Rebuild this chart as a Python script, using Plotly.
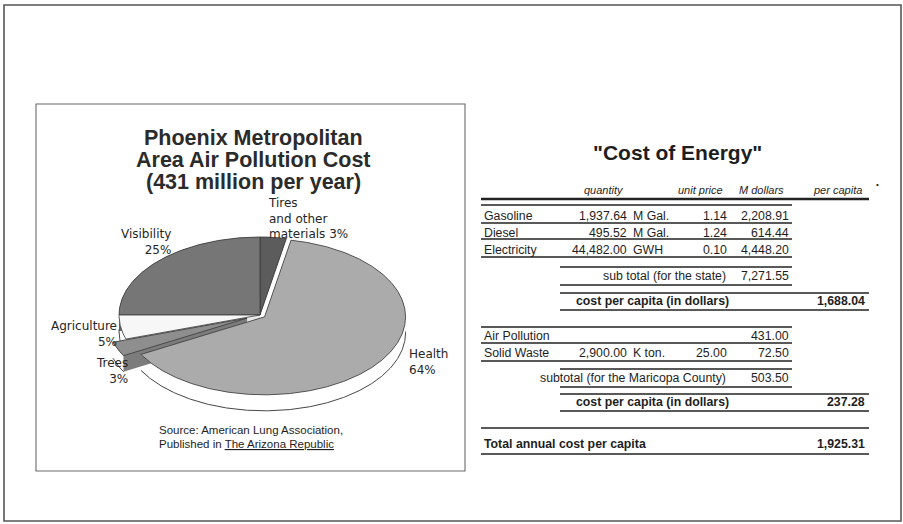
import numpy as np
import plotly.graph_objects as go

# ---------------- data ----------------
pie_title_lines = ["Phoenix Metropolitan", "Area Air Pollution Cost", "(431 million per year)"]
pie_labels = ["Visibility", "Agriculture", "Trees", "Health", "Tires and other materials"]
pie_shares = [25, 5, 3, 64, 3]
pie_label_lines = [["Visibility"], ["Agriculture"], ["Trees"], ["Health"], ["Tires", "and other", "materials"]]
source_line1 = "Source: American Lung Association,"
source_line2_prefix = "Published in "
source_publication = "The Arizona Republic"

table_title = '"Cost of Energy"'
table_headers = ["quantity", "unit price", "M dollars", "per capita"]

energy_items = ["Gasoline", "Diesel", "Electricity"]
energy_qty = [1937.64, 495.52, 44482.00]
energy_units = ["M Gal.", "M Gal.", "GWH"]
energy_price = [1.14, 1.24, 0.10]
energy_mdollars = [2208.91, 614.44, 4448.20]
state_subtotal_label = "sub total (for the state)"
state_subtotal = 7271.55
per_capita_label = "cost per capita (in dollars)"
state_per_capita = 1688.04

county_items = ["Air Pollution", "Solid Waste"]
county_qty = [None, 2900.00]
county_units = ["", "K ton."]
county_price = [None, 25.00]
county_mdollars = [431.00, 72.50]
county_subtotal_label = "subtotal (for the Maricopa County)"
county_subtotal = 503.50
county_per_capita = 237.28
total_label = "Total annual cost per capita"
total_per_capita = 1925.31

# ---------------- style / layout ----------------
W, H = 903, 524
SANS = "Liberation Sans, Arial, sans-serif"
WIDE = "DejaVu Sans, Verdana, sans-serif"
INK = "#1e1e1e"

cx, cy, ra, rb, depth = 260, 315, 141, 78, 16
start_angle = 90.0
explode = [0.0, 0.0, 0.1, 0.04, 0.0]
top_colors = ["#767676", "#f7f7f7", "#8e8e8e", "#ababab", "#5c5c5c"]
side_colors = ["#656565", "#e8e8e8", "#7c7c7c", "#9a9a9a", "#4e4e4e"]
# label placement: (x, y centre of the label block, xanchor)
label_pos = [(172, 242, "right"), (118, 334, "right"), (129, 371, "right"),
             (408, 362, "left"), (267, 218, "left")]

fig = go.Figure()

# ---------------- pseudo-3D pie built from the shares ----------------
total = float(sum(pie_shares))
bounds = []
acc = start_angle
for s in pie_shares:
    span = 360.0 * s / total
    bounds.append((acc, acc + span))
    acc += span


def pt(t_deg, ox, oy, dz=0.0):
    t = np.radians(t_deg)
    return cx + ox + ra * np.cos(t), cy + oy - rb * np.sin(t) + dz


slices = []
for i, (t0, t1) in enumerate(bounds):
    mid = np.radians((t0 + t1) / 2)
    ox = explode[i] * ra * np.cos(mid)
    oy = -explode[i] * rb * np.sin(mid)
    slices.append((i, t0, t1, ox, oy, cy + oy - rb * np.sin(mid) * 0.6))

order = sorted(slices, key=lambda s: s[5])

for i, t0, t1, ox, oy, _ in order:
    ts = np.linspace(t0, t1, max(8, int((t1 - t0) * 2)))
    ax_, ay_ = pt(ts, ox, oy)
    bx_, by_ = pt(ts, ox, oy, depth)
    c0 = (cx + ox, cy + oy)
    xs, ys = [], []
    # bottom face
    xs += [c0[0]] + list(bx_) + [c0[0], None]
    ys += [c0[1] + depth] + list(by_) + [c0[1] + depth, None]
    # outer band
    xs += list(ax_) + list(bx_[::-1]) + [ax_[0], None]
    ys += list(ay_) + list(by_[::-1]) + [ay_[0], None]
    # radial faces
    for k in (0, -1):
        xs += [c0[0], ax_[k], bx_[k], c0[0], c0[0], None]
        ys += [c0[1], ay_[k], by_[k], c0[1] + depth, c0[1], None]
    fig.add_trace(go.Scatter(x=xs, y=ys, mode="lines", fill="toself",
                             fillcolor=side_colors[i], line=dict(width=0),
                             hoverinfo="skip", showlegend=False))
    # outline of the visible lower rim
    front = np.sin(np.radians(ts)) < 0.02
    if front.any():
        fx, fy = pt(ts[front], ox, oy, depth)
        fig.add_trace(go.Scatter(x=fx, y=fy, mode="lines",
                                 line=dict(color="#333", width=0.9),
                                 hoverinfo="skip", showlegend=False))
    # top face
    fig.add_trace(go.Scatter(x=[c0[0]] + list(ax_) + [c0[0]],
                             y=[c0[1]] + list(ay_) + [c0[1]],
                             mode="lines", fill="toself", fillcolor=top_colors[i],
                             line=dict(color="#3a3a3a", width=0.8),
                             hoverinfo="skip", showlegend=False))

annotations = []


def txt(x, y, text, size, xanchor="left", family=SANS, color=INK, align=None):
    annotations.append(dict(x=x, y=y, xref="x", yref="y", text=text, showarrow=False,
                            xanchor=xanchor, yanchor="middle", borderpad=0,
                            align=align or ("center" if xanchor == "center" else xanchor),
                            font=dict(family=family, size=size, color=color)))


# pie title
for k, line in enumerate(pie_title_lines):
    txt(253, 138 + 22 * k, f"<b>{line}</b>", 21.5, "center", color="#2b2b2b")

# pie labels
for i, lines in enumerate(pie_label_lines):
    x, yc, anc = label_pos[i]
    pct = f"{pie_shares[i]}%"
    lines = list(lines)
    if len(lines) > 1:
        lines[-1] = lines[-1] + " " + pct
    else:
        lines = lines + [pct]
    txt(x, yc, "<br>".join(lines), 12, anc, family=WIDE, color="#262626")

# source
txt(158, 430, source_line1, 11.5, "left")
txt(158, 444, source_line2_prefix + f"<u>{source_publication}</u>", 11.5, "left")

# ---------------- table ----------------
fmt = lambda v: f"{v:,.2f}"
X_LABEL, X_QTY, X_UNIT, X_PRICE, X_MD, X_PC = 483, 628, 632, 728, 790, 866
FS = 12.3

txt(677, 152, f"<b>{table_title}</b>", 21, "center")
header_x = [(604, "center"), (724, "right"), (785, "right"), (863, "right")]
for h, (x, anc) in zip(table_headers, header_x):
    txt(x, 190, f"<i>{h}</i>", 11, anc)
txt(877, 184, "•", 8, "center")

energy_y = [216, 233, 250]
for item, q, u, p, m, y in zip(energy_items, energy_qty, energy_units, energy_price,
                               energy_mdollars, energy_y):
    txt(X_LABEL, y, item, FS)
    txt(X_QTY, y, fmt(q), FS, "right")
    txt(X_UNIT, y, u, FS)
    txt(X_PRICE, y, fmt(p), FS, "right")
    txt(X_MD, y, fmt(m), FS, "right")
txt(727, 276, state_subtotal_label, FS, "right")
txt(X_MD, 276, fmt(state_subtotal), FS, "right")
txt(575, 301, f"<b>{per_capita_label}</b>", FS, "left")
txt(X_PC, 301, f"<b>{fmt(state_per_capita)}</b>", FS, "right")

county_y = [336, 353]
for item, q, u, p, m, y in zip(county_items, county_qty, county_units, county_price,
                               county_mdollars, county_y):
    txt(X_LABEL, y, item, FS)
    if q is not None:
        txt(X_QTY, y, fmt(q), FS, "right")
        txt(X_UNIT, y, u, FS)
    if p is not None:
        txt(X_PRICE, y, fmt(p), FS, "right")
    txt(X_MD, y, fmt(m), FS, "right")
txt(727, 378, county_subtotal_label, FS, "right")
txt(X_MD, 378, fmt(county_subtotal), FS, "right")
txt(575, 402, f"<b>{per_capita_label}</b>", FS, "left")
txt(X_PC, 402, f"<b>{fmt(county_per_capita)}</b>", FS, "right")
txt(X_LABEL, 444, f"<b>{total_label}</b>", FS, "left")
txt(X_PC, 444, f"<b>{fmt(total_per_capita)}</b>", FS, "right")

# rule lines (y, x0, x1, width)
rules = [
    (199, 481, 869, 2.6), (205, 481, 792, 1.6),
    (223, 481, 792, 1.4), (239, 481, 792, 1.4), (257, 481, 792, 1.4),
    (267, 560, 792, 1.4), (285, 560, 792, 1.4),
    (293, 560, 869, 1.4), (310, 560, 869, 1.4),
    (327, 481, 792, 1.4), (343, 481, 792, 1.4), (361, 481, 792, 1.4),
    (369, 560, 792, 1.4), (387, 560, 792, 1.4),
    (394, 560, 869, 1.4), (411, 560, 869, 1.4),
    (428, 481, 869, 1.4), (454, 481, 869, 1.6),
]
shapes = [dict(type="line", xref="x", yref="y", x0=x0, x1=x1, y0=y, y1=y,
               line=dict(color="#222", width=w)) for y, x0, x1, w in rules]
# frames
shapes.append(dict(type="rect", xref="x", yref="y", x0=4, y0=5, x1=901, y1=521,
                   line=dict(color="#555", width=1.6), layer="below"))
shapes.append(dict(type="rect", xref="x", yref="y", x0=36, y0=104, x1=465, y1=471,
                   line=dict(color="#6a6a6a", width=1.1), layer="below"))

fig.update_layout(
    width=W, height=H, margin=dict(l=0, r=0, t=0, b=0),
    paper_bgcolor="white", plot_bgcolor="white",
    xaxis=dict(range=[0, W], visible=False, fixedrange=True),
    yaxis=dict(range=[H, 0], visible=False, fixedrange=True),
    annotations=annotations, shapes=shapes, showlegend=False,
)

fig.write_html("out.html", config={"displayModeBar": False, "staticPlot": True},
               post_script="document.body.style.margin='0';")
